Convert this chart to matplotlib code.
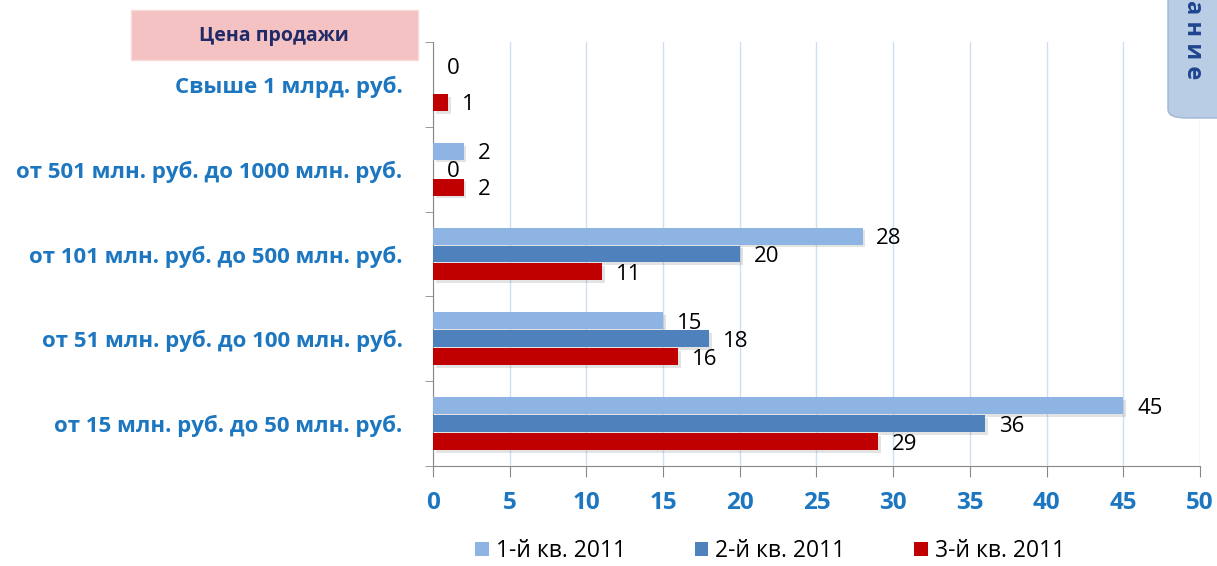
import matplotlib.pyplot as plt
import matplotlib.patheffects as pe
from matplotlib.patches import FancyBboxPatch, Rectangle
import numpy as np

# categories bottom to top
categories = [
    "от 15 млн. руб. до 50 млн. руб.",
    "от 51 млн. руб. до 100 млн. руб.",
    "от 101 млн. руб. до 500 млн. руб.",
    "от 501 млн. руб. до 1000 млн. руб.",
    "Свыше 1 млрд. руб.",
]
series_names = ["1-й кв. 2011", "2-й кв. 2011", "3-й кв. 2011"]
q1 = [45, 15, 28, 2, 0]
q2 = [36, 18, 20, 0, None]
q3 = [29, 16, 11, 2, 1]
x_ticks = [0, 5, 10, 15, 20, 25, 30, 35, 40, 45, 50]

colors = ["#8EB4E3", "#4F81BD", "#C00000"]
label_blue = "#1C76C0"
FONT = "Open Sans"

fig = plt.figure(figsize=(12.17, 5.66), dpi=100)
ax = fig.add_axes([433/1217, 1-466/566, (1200-433)/1217, (466-42)/566])

y = np.arange(len(categories))
offsets = [0.212, 0.0, -0.212]
shadow = [pe.SimplePatchShadow(offset=(2, -2), shadow_rgbFace="#777777", alpha=0.2), pe.Normal()]

for vals, off, col in zip([q1, q2, q3], offsets, colors):
    for yi, v in zip(y, vals):
        if v is None:
            continue
        ax.barh(yi + off, v, height=0.2, color=col, zorder=3, path_effects=shadow)
        ax.text(v + 0.9, yi + off - 0.03, str(v), ha="left", va="center",
                fontsize=16, family=FONT, color="black", zorder=4)

ax.set_xlim(0, 50)
ax.set_ylim(-0.5, 4.5)
ax.set_xticks(x_ticks)
ax.set_xticklabels([str(t) for t in x_ticks], fontsize=17.5, fontweight="bold",
                   color=label_blue, family=FONT)
ax.tick_params(axis="x", length=8, color="#888888", pad=10)
ax.set_yticks(y)
ax.set_yticklabels(categories, fontsize=16, fontweight="bold", color=label_blue, family=FONT)
ax.tick_params(axis="y", which="major", length=0, pad=22)
ax.set_yticks(np.arange(-0.5, 4.6, 1), minor=True)
ax.tick_params(axis="y", which="minor", length=6, color="#888888")

ax.grid(axis="x", color="#D0DEF2", linewidth=1, zorder=0)
for s in ["top", "right"]:
    ax.spines[s].set_visible(False)
ax.spines["left"].set_color("#888888")
ax.spines["bottom"].set_color("#888888")

# header box
fig.patches.append(Rectangle((131/1217, 1-60/566), (418-131)/1217, 50/566,
                             transform=fig.transFigure, facecolor="#F4C2C2",
                             edgecolor="#F8DADA", linewidth=1))
fig.text(274/1217, 1-36/566, "Цена продажи", ha="center", va="center",
         fontsize=14, fontweight="bold", color="#1F2A66", family=FONT)

# partial side tab in top-right corner
fig.patches.append(FancyBboxPatch((1168/1217, 1-118/566), 80/1217, 150/566,
                                  boxstyle="round,pad=0,rounding_size=0.015",
                                  transform=fig.transFigure, facecolor="#B9CDE5",
                                  edgecolor="#9FB6D6", linewidth=1))
fig.text(1193/1217, 1-40/566, "а н и е", rotation=-90, ha="center", va="center",
         fontsize=17, fontweight="bold", color="#1F4590", family=FONT)

handles = [Rectangle((0, 0), 1, 1, facecolor=c) for c in colors]
fig.legend(handles, series_names, loc="center", bbox_to_anchor=(770/1217, 1-551/566),
           ncol=3, frameon=False, prop={"family": FONT, "size": 16.5},
           handlelength=0.6, handleheight=0.6, handletextpad=0.3, columnspacing=3.0)

fig.savefig("out.png", dpi=100)
